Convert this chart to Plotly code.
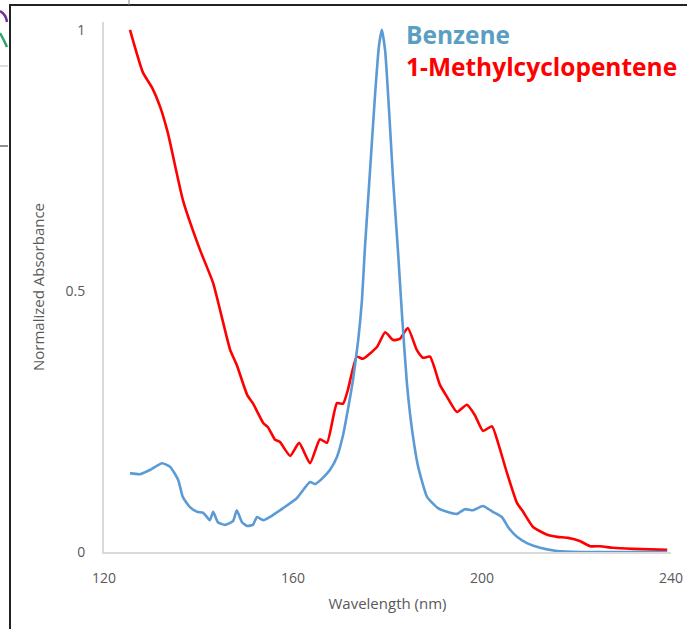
import plotly.graph_objects as go

# Benzene (blue)
benz_x = [125.5, 127.6, 129.7, 132.3, 134.0, 135.7, 136.7, 138.2, 139.7, 141.0, 142.4, 143.1, 144.1,
          145.6, 147.3, 148.1, 149.2, 150.3, 151.5, 152.4, 153.7, 155.8, 157.9, 160.8, 163.6, 164.7,
          166.1, 167.8, 169.3, 170.6, 171.6, 172.7, 173.8, 174.6, 175.2, 176.3, 177.4, 178.2, 178.8,
          179.5, 180.3, 181.2, 182.2, 183.1, 184.1, 185.2, 186.5, 188.4, 190.7, 192.6, 194.7, 196.4,
          198.1, 200.2, 202.3, 204.2, 205.5, 207.4, 209.5, 212.3, 215.9, 220.7, 230.0, 239.2]
benz_y = [0.151, 0.149, 0.157, 0.170, 0.163, 0.138, 0.105, 0.086, 0.077, 0.075, 0.061, 0.077, 0.057,
          0.052, 0.059, 0.080, 0.057, 0.050, 0.052, 0.067, 0.061, 0.071, 0.084, 0.103, 0.134, 0.130,
          0.140, 0.157, 0.182, 0.224, 0.272, 0.330, 0.406, 0.483, 0.579, 0.730, 0.880, 0.970, 1.000,
          0.960, 0.850, 0.710, 0.579, 0.450, 0.324, 0.234, 0.163, 0.105, 0.084, 0.077, 0.073, 0.082,
          0.080, 0.088, 0.077, 0.067, 0.048, 0.029, 0.017, 0.008, 0.002, 0.000, 0.000, 0.000]

# 1-Methylcyclopentene (red)
mcp_x = [125.5, 128.25, 130.2, 131.9, 133.5, 136.7, 140.3, 143.1, 146.7, 148.1, 150.3, 151.5, 153.7,
         154.7, 156.2, 157.2, 159.4, 161.3, 163.6, 165.7, 167.2, 169.3, 170.6, 171.6, 173.5, 174.8,
         177.8, 179.5, 181.2, 182.6, 184.3, 186.2, 187.5, 189.0, 191.1, 192.6, 194.7, 196.8, 198.5,
         200.2, 202.1, 203.4, 205.3, 207.4, 208.7, 210.8, 213.8, 215.9, 218.2, 220.7, 222.9, 225.0,
         227.7, 232.0, 239.2]
mcp_y = [1.000, 0.918, 0.889, 0.852, 0.803, 0.674, 0.579, 0.515, 0.387, 0.358, 0.301, 0.285, 0.247,
         0.239, 0.215, 0.211, 0.184, 0.209, 0.170, 0.216, 0.209, 0.285, 0.284, 0.310, 0.374, 0.370,
         0.393, 0.421, 0.406, 0.408, 0.429, 0.387, 0.372, 0.374, 0.320, 0.297, 0.268, 0.282, 0.262,
         0.232, 0.241, 0.209, 0.151, 0.094, 0.077, 0.048, 0.033, 0.029, 0.027, 0.021, 0.011, 0.011,
         0.008, 0.006, 0.004]

x_ticks = [120, 160, 200, 240]
y_ticks = [0, 0.5, 1]
y_tick_text = ["0", "0.5", "1"]

fig = go.Figure()
fig.add_trace(go.Scatter(x=mcp_x, y=mcp_y, mode="lines", name="1-Methylcyclopentene",
                         line=dict(color="#FF0000", width=2.6, shape="spline", smoothing=0.5)))
fig.add_trace(go.Scatter(x=benz_x, y=benz_y, mode="lines", name="Benzene",
                         line=dict(color="#5B9BD5", width=2.6, shape="spline", smoothing=0.5)))

font_family = "Open Sans, Noto Sans, sans-serif"

fig.update_layout(
    width=687, height=629,
    margin=dict(l=104, r=16, t=22, b=77, autoexpand=False),
    paper_bgcolor="white", plot_bgcolor="white",
    showlegend=False,
    font=dict(family=font_family, color="#595959", size=14),
    xaxis=dict(range=[120, 240], tickvals=x_ticks, showgrid=False, zeroline=False, automargin=False,
               showline=True, linecolor="#D9D9D9", linewidth=2, ticks="",
               tickfont=dict(size=14, color="#595959"), ticklabelstandoff=12,
               title=dict(text="Wavelength (nm)", font=dict(size=15, color="#595959"), standoff=13)),
    yaxis=dict(range=[0, 1.015], tickvals=y_ticks, ticktext=y_tick_text, showgrid=False, automargin=False,
               zeroline=False, showline=True, linecolor="#D9D9D9", linewidth=2, ticks="",
               tickfont=dict(size=14, color="#595959"), ticklabelstandoff=14,
               title=dict(text="Normalized Absorbance", font=dict(size=15, color="#595959"), standoff=17)),
)

# px -> paper helpers
def px(xp):
    return (xp - 104) / 567.0
def py(yp):
    return (552 - yp) / 530.0

legend_text = ("<b><span style='color:#5A9FC2'>Benzene</span><br>"
               "<span style='color:#FF0000'>1-Methylcyclopentene</span></b>")
fig.add_annotation(x=px(404), y=py(51), xref="paper", yref="paper", text=legend_text,
                   showarrow=False, xanchor="left", yanchor="middle", align="left",
                   font=dict(family=font_family, size=24.5, color="#FF0000"))

# frame and clipped artifacts around the screenshot
shapes = [
    dict(type="line", xref="paper", yref="paper", x0=px(10), x1=px(690), y0=py(5), y1=py(5),
         line=dict(color="#222222", width=2)),
    dict(type="line", xref="paper", yref="paper", x0=px(10), x1=px(10), y0=py(4), y1=py(632),
         line=dict(color="#222222", width=2)),
    dict(type="line", xref="paper", yref="paper", x0=px(129), x1=px(129), y0=py(0), y1=py(5),
         line=dict(color="#888888", width=1)),
    dict(type="line", xref="paper", yref="paper", x0=px(-2), x1=px(8), y0=py(66), y1=py(66),
         line=dict(color="#BBBBBB", width=1)),
    dict(type="line", xref="paper", yref="paper", x0=px(-2), x1=px(8), y0=py(146), y1=py(146),
         line=dict(color="#222222", width=1)),
    dict(type="path", xref="paper", yref="paper",
         path=f"M {px(0)},{py(11)} Q {px(6)},{py(14)} {px(7)},{py(22)}",
         line=dict(color="#7030A0", width=2.5)),
    dict(type="path", xref="paper", yref="paper",
         path=f"M {px(0)},{py(33)} Q {px(4)},{py(40)} {px(7)},{py(47)}",
         line=dict(color="#2EA66B", width=2.5)),
]
fig.update_layout(shapes=shapes)

fig.write_html("out.html")
